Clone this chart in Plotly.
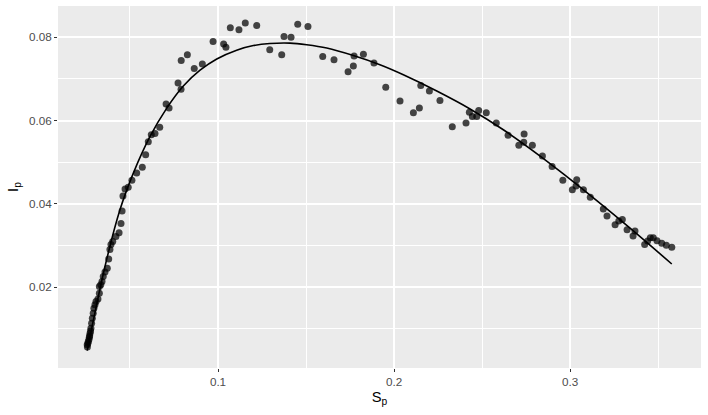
import plotly.graph_objects as go

# observed points
sp = [
    0.0257, 0.0258, 0.0261, 0.0263, 0.0267, 0.0269, 0.0271, 0.0273, 0.0276, 0.0278,
    0.0282, 0.0286, 0.0291, 0.0295, 0.0301, 0.0307, 0.0318, 0.0326, 0.0326, 0.0334,
    0.0341, 0.0348, 0.0358, 0.0371, 0.0379, 0.0386, 0.0392, 0.0402, 0.0420, 0.0438,
    0.0449, 0.0455, 0.0460, 0.0472, 0.0490, 0.0511, 0.0538, 0.0570, 0.0589, 0.0604,
    0.0621, 0.0642, 0.0669, 0.0705, 0.0722, 0.0773, 0.0790, 0.0791, 0.0826, 0.0865,
    0.0911, 0.0972, 0.1032, 0.1045, 0.1070, 0.1119, 0.1155, 0.1220, 0.1294, 0.1362,
    0.1375, 0.1415, 0.1453, 0.1511, 0.1595, 0.1659, 0.1739, 0.1769, 0.1773, 0.1826,
    0.1886, 0.1953, 0.2034, 0.2110, 0.2144, 0.2152, 0.2201, 0.2261, 0.2331, 0.2409,
    0.2428, 0.2445, 0.2470, 0.2481, 0.2524, 0.2581, 0.2648, 0.2709, 0.2739, 0.2737,
    0.2786, 0.2843, 0.2898, 0.2959, 0.3013, 0.3038, 0.3034, 0.3076, 0.3115, 0.3189,
    0.3210, 0.3256, 0.3277, 0.3297, 0.3324, 0.3358, 0.3369, 0.3424, 0.3441, 0.3456,
    0.3473, 0.3494, 0.3521, 0.3547, 0.3578,
]
ip = [
    0.0062, 0.0057, 0.0066, 0.0070, 0.0075, 0.0080, 0.0084, 0.0090, 0.0095, 0.0102,
    0.0114, 0.0126, 0.0138, 0.0150, 0.0158, 0.0166, 0.0172, 0.0186, 0.0202, 0.0206,
    0.0214, 0.0226, 0.0237, 0.0246, 0.0268, 0.0291, 0.0303, 0.0310, 0.0322, 0.0331,
    0.0353, 0.0383, 0.0419, 0.0436, 0.0440, 0.0457, 0.0474, 0.0488, 0.0518, 0.0549,
    0.0566, 0.0569, 0.0584, 0.0640, 0.0630, 0.0690, 0.0675, 0.0744, 0.0758, 0.0725,
    0.0736, 0.0790, 0.0784, 0.0776, 0.0823, 0.0818, 0.0834, 0.0828, 0.0770, 0.0758,
    0.0802, 0.0800, 0.0831, 0.0826, 0.0754, 0.0746, 0.0717, 0.0731, 0.0755, 0.0759,
    0.0738, 0.0680, 0.0647, 0.0619, 0.0630, 0.0684, 0.0671, 0.0648, 0.0585, 0.0594,
    0.0620, 0.0610, 0.0610, 0.0624, 0.0619, 0.0594, 0.0565, 0.0541, 0.0568, 0.0548,
    0.0541, 0.0515, 0.0490, 0.0457, 0.0434, 0.0458, 0.0443, 0.0434, 0.0416, 0.0388,
    0.0371, 0.0350, 0.0359, 0.0363, 0.0338, 0.0323, 0.0335, 0.0303, 0.0311, 0.0319,
    0.0319, 0.0312, 0.0306, 0.0301, 0.0296,
]

# fitted curve
fit_sp = [
    0.0257, 0.0358, 0.0443, 0.0519, 0.0614, 0.0709, 0.0803, 0.0898, 0.0993, 0.1106,
    0.1201, 0.1295, 0.1409, 0.1504, 0.1618, 0.1769, 0.1920, 0.2053, 0.2243, 0.2432,
    0.2621, 0.2830, 0.2962, 0.3152, 0.3341, 0.3578,
]
fit_ip = [
    0.0048, 0.0250, 0.0386, 0.0474, 0.0562, 0.0630, 0.0683, 0.0721, 0.0748, 0.0769,
    0.0780, 0.0785, 0.0786, 0.0782, 0.0774, 0.0756, 0.0734, 0.0710, 0.0671, 0.0628,
    0.0578, 0.0515, 0.0472, 0.0408, 0.0342, 0.0256,
]

PANEL = "#EBEBEB"
TICK_TEXT = "#4D4D4D"

fig = go.Figure()
fig.add_trace(go.Scatter(
    x=sp, y=ip, mode="markers",
    marker=dict(size=7, color="rgba(0,0,0,0.72)", line=dict(width=0)),
    hoverinfo="x+y",
))
fig.add_trace(go.Scatter(
    x=fit_sp, y=fit_ip, mode="lines",
    line=dict(color="black", width=1.6, shape="spline", smoothing=1.0),
))

fig.update_layout(
    template="none",
    width=708, height=415,
    margin=dict(l=58, r=7, t=6, b=47),
    paper_bgcolor="white",
    plot_bgcolor=PANEL,
    showlegend=False,
    font=dict(family="Liberation Sans, Arial, sans-serif", color="black"),
)
axis_common = dict(
    showline=False, zeroline=False, automargin=False,
    gridcolor="white", gridwidth=1.8,
    ticks="outside", ticklen=3, tickwidth=1, tickcolor="#333333",
    tickfont=dict(size=11.7, color=TICK_TEXT),
    title_font=dict(size=14.7, color="black"),
)
fig.update_xaxes(
    range=[0.0091, 0.3744], tick0=0, dtick=0.1,
    minor=dict(dtick=0.05, showgrid=True, gridcolor="white", gridwidth=0.9),
    title=dict(text="S<sub>p</sub>", standoff=4),
    **axis_common,
)
fig.update_yaxes(
    range=[0.00064, 0.0875], tick0=0, dtick=0.02,
    minor=dict(dtick=0.01, showgrid=True, gridcolor="white", gridwidth=0.9),
    title=dict(text="I<sub>p</sub>", standoff=6),
    **axis_common,
)

# drop the page's default body margin so the figure sits at the window origin
fig.write_html(
    "out.html",
    config={"displayModeBar": False},
    post_script="document.body.style.margin='0';",
)
